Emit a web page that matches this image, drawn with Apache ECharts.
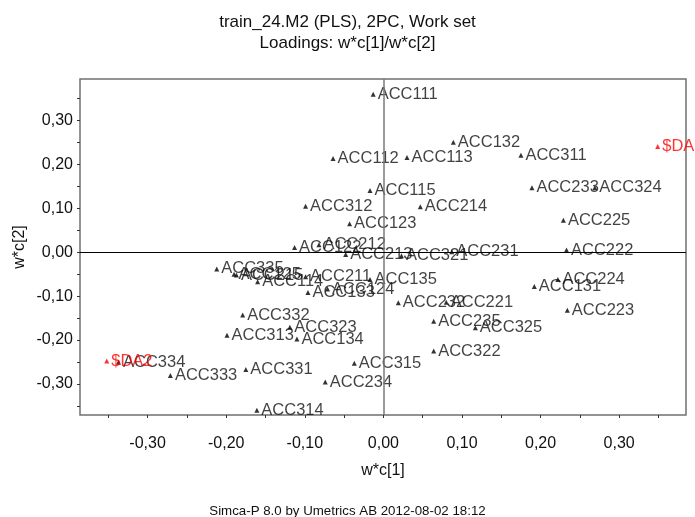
<!DOCTYPE html>
<html>
<head>
<meta charset="utf-8">
<script src="https://cdn.jsdelivr.net/npm/echarts@6/dist/echarts.min.js"></script>
<style>
  html, body { margin: 0; padding: 0; background: #fff; }
  #chart { width: 695px; height: 517px; }
</style>
</head>
<body>
<div id="chart"></div>
<script>
// Loadings w*c[1] / w*c[2] for the X variables (ACC...)
const varNames = [
  'ACC111', 'ACC132', 'ACC112', 'ACC113', 'ACC311', 'ACC115', 'ACC233', 'ACC324',
  'ACC312', 'ACC214', 'ACC123', 'ACC225', 'ACC122', 'ACC212', 'ACC213', 'ACC321',
  'ACC231', 'ACC222', 'ACC135', 'ACC224', 'ACC131', 'ACC232', 'ACC221', 'ACC223',
  'ACC235', 'ACC325', 'ACC322', 'ACC335', 'ACC125', 'ACC215', 'ACC114', 'ACC211',
  'ACC133', 'ACC124', 'ACC332', 'ACC313', 'ACC323', 'ACC134', 'ACC334', 'ACC333',
  'ACC331', 'ACC315', 'ACC234', 'ACC314'
];
const varWc1 = [
  -0.013, 0.089, -0.064, 0.030, 0.175, -0.017, 0.189, 0.269,
  -0.099, 0.047, -0.043, 0.229, -0.113, -0.082, -0.048, 0.023,
  0.087, 0.233, -0.017, 0.222, 0.192, 0.019, 0.080, 0.234,
  0.064, 0.117, 0.064, -0.212, -0.190, -0.187, -0.160, -0.099,
  -0.096, -0.071, -0.179, -0.199, -0.119, -0.110, -0.337, -0.271,
  -0.175, -0.037, -0.074, -0.161
];
const varWc2 = [
  0.360, 0.251, 0.214, 0.216, 0.221, 0.141, 0.147, 0.147,
  0.105, 0.104, 0.065, 0.073, 0.011, 0.017, -0.005, -0.008,
  0.001, 0.005, -0.062, -0.062, -0.078, -0.115, -0.114, -0.132,
  -0.157, -0.172, -0.225, -0.038, -0.050, -0.052, -0.067, -0.056,
  -0.092, -0.084, -0.143, -0.189, -0.171, -0.198, -0.251, -0.281,
  -0.267, -0.253, -0.296, -0.360
];

// Loadings for the Y responses
const respNames = ['$DA', '$DA2'];
const respWc1 = [0.349, -0.352];
const respWc2 = [0.241, -0.248];

// Axis ranges and tick positions
const xRange = [-0.386, 0.385];
const yRange = [-0.371, 0.395];
const tickValues = [-0.35, -0.3, -0.25, -0.2, -0.15, -0.1, -0.05, 0, 0.05, 0.1, 0.15, 0.2, 0.25, 0.3, 0.35];
const labelValues = [-0.3, -0.2, -0.1, 0, 0.1, 0.2, 0.3];

const FONT = "'Liberation Sans', Arial, sans-serif";
const fmt = v => v.toFixed(2).replace('.', ',').replace('-0,00', '0,00');

function points(names, xs, ys) {
  return names.map((n, i) => ({ name: n, value: [xs[i], ys[i]] }));
}

function axis(range, nameText, isY) {
  return {
    type: 'value',
    min: range[0],
    max: range[1],
    name: nameText,
    nameLocation: 'middle',
    nameMoveOverlap: false,
    nameGap: isY ? 52 : 48,
    nameTextStyle: { fontFamily: FONT, fontSize: 16, color: '#111' },
    axisLine: { show: false, onZero: false },
    splitLine: { show: false },
    axisTick: {
      show: true, length: 3, inside: false,
      lineStyle: { color: '#333', width: 1 },
      customValues: tickValues
    },
    axisLabel: {
      show: true,
      customValues: labelValues,
      formatter: fmt,
      fontFamily: FONT, fontSize: 16, color: '#111',
      margin: isY ? 7 : 21
    }
  };
}

const chart = echarts.init(document.getElementById('chart'), null, { renderer: 'canvas' });
chart.setOption({
  animation: false,
  backgroundColor: '#fff',
  title: [
    { text: 'train_24.M2 (PLS), 2PC, Work set', left: 'center', top: 9,
      textStyle: { fontFamily: FONT, fontSize: 17, fontWeight: 'normal', color: '#111' } },
    { text: 'Loadings: w*c[1]/w*c[2]', left: 'center', top: 30,
      textStyle: { fontFamily: FONT, fontSize: 17, fontWeight: 'normal', color: '#111' } },
    { text: 'Simca-P 8.0 by Umetrics AB 2012-08-02 18:12', left: 'center', top: 500,
      textStyle: { fontFamily: FONT, fontSize: 13.3, fontWeight: 'normal', color: '#111' } }
  ],
  grid: {
    left: 80, right: 9, top: 79, bottom: 102,
    show: true, borderColor: '#707070', borderWidth: 1.5, backgroundColor: 'transparent'
  },
  xAxis: axis(xRange, 'w*c[1]', false),
  yAxis: axis(yRange, 'w*c[2]', true),
  series: [
    {
      type: 'scatter',
      symbol: 'triangle',
      symbolSize: 5,
      itemStyle: { color: '#000' },
      data: points(varNames, varWc1, varWc2),
      label: {
        show: true, position: 'right', distance: 2,
        formatter: p => p.name,
        fontFamily: FONT, fontSize: 16.5, color: '#111'
      },
      markLine: {
        silent: true,
        symbol: 'none',
        label: { show: false },
        animation: false,
        data: [
          { xAxis: 0, lineStyle: { color: '#7a7a7a', width: 1.5, type: 'solid' } },
          { yAxis: 0, lineStyle: { color: '#000', width: 1, type: 'solid' } }
        ]
      },
      z: 3
    },
    {
      type: 'scatter',
      symbol: 'triangle',
      symbolSize: 5,
      itemStyle: { color: '#ff0000' },
      data: points(respNames, respWc1, respWc2),
      label: {
        show: true, position: 'right', distance: 2,
        formatter: p => p.name,
        fontFamily: FONT, fontSize: 16.5, color: '#ff0000'
      },
      z: 4
    }
  ]
});
</script>
</body>
</html>
